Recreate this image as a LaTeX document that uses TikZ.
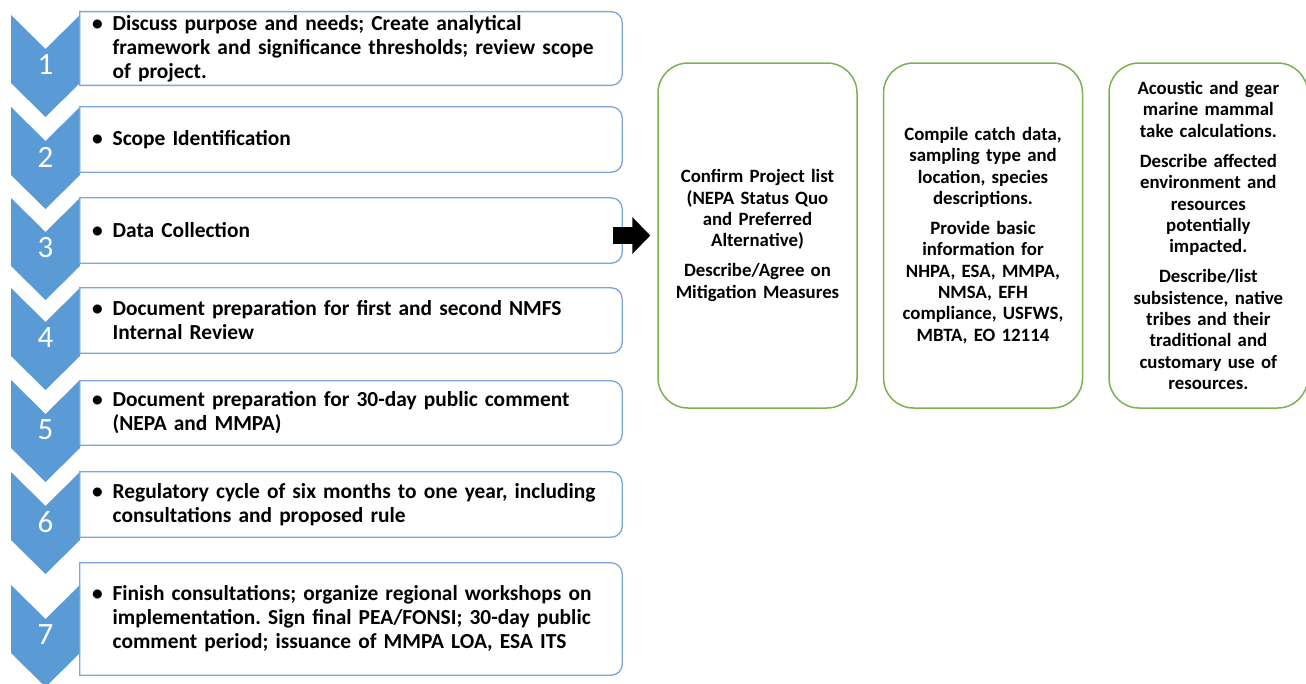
\documentclass[tikz,border=0pt]{standalone}
\usepackage{fontspec}
\setmainfont{Carlito}
\usepackage{xcolor}
\usepackage{tikz}
\usetikzlibrary{arrows.meta,positioning,calc}

\definecolor{chevblue}{RGB}{91,155,213}
\definecolor{lineblue}{RGB}{122,166,216}
\definecolor{notegreen}{RGB}{122,178,82}
\newcommand{\bitem}[1]{\textbullet\hspace{10pt}\parbox[t]{490pt}{#1}}
\frenchspacing

\begin{document}
\begin{tikzpicture}[x=1pt,y=1pt,>=latex,
  stepbox/.style={rectangle,minimum width=542pt,text width=518pt,inner xsep=12pt,align=left,
    font=\fontsize{21.4}{24}\selectfont\bfseries},
  stepnum/.style={text=white,font=\fontsize{31}{31}\selectfont},
  notebox/.style={draw=notegreen,line width=1.5pt,rounded corners=30pt,minimum width=199pt,
    minimum height=345pt,text width=192pt,align=center,font=\fontsize{18.8}{21.3}\selectfont\bfseries}]
  \clip (0,0) rectangle (1306,-683);
  % chevrons with step numbers
  \foreach \t/\n in {15/1,107/2,198/3,288/4,380/5,472/6,585/7} {
    \fill[chevblue] (11,-\t) -- (45.5,-\t-34) -- (80,-\t) -- (80,-\t-68) -- (45.5,-\t-102) -- (11,-\t-68) -- cycle;
    \node[stepnum] (n\n) at (45.5,-\t-50) {\n};
  }
  % steps
  \node[stepbox,minimum height=73pt] (s1) at (351,-48.5) {\bitem{Discuss purpose and needs; Create analytical\\
    framework and significance thresholds; review scope\\ of project.}};
  \node[stepbox,minimum height=65pt] (s2) at (351,-139.5) {\bitem{Scope Identification}};
  \node[stepbox,minimum height=65pt] (s3) at (351,-230.5) {\bitem{Data Collection}};
  \node[stepbox,minimum height=65pt] (s4) at (351,-320.5) {\bitem{Document preparation for first and second NMFS\\ Internal Review}};
  \node[stepbox,minimum height=64pt] (s5) at (351,-413) {\bitem{Document preparation for 30-day public comment\\ (NEPA and MMPA)}};
  \node[stepbox,minimum height=65pt] (s6) at (351,-504.5) {\bitem{Regulatory cycle of six months to one year, including\\ consultations and proposed rule}};
  \node[stepbox,minimum height=112pt] (s7) at (351,-619) {\bitem{Finish consultations; organize regional workshops on\\
    implementation. Sign final PEA/FONSI; 30-day public\\ comment period; issuance of MMPA LOA, ESA ITS}};
  \foreach \s in {s1,s2,s3,s4,s5,s6,s7}
    \draw[lineblue,line width=1.3pt] (\s.north west) -- ([xshift=-11pt]\s.north east) arc[start angle=90,end angle=0,radius=11pt]
      -- ([yshift=11pt]\s.south east) arc[start angle=0,end angle=-90,radius=11pt] -- (\s.south west) -- cycle;
  % notes
  \node[notebox] (gA) at (757.5,-235.5) {Confirm Project list\\(NEPA Status Quo\\and Preferred\\Alternative)\\[9pt]
    Describe/Agree on\\Mitigation Measures};
  \node[notebox,right=25pt of gA] (gB) {Compile catch data,\\sampling type and\\location, species\\descriptions.\\[9pt]
    Provide basic\\information for\\NHPA, ESA, MMPA,\\NMSA, EFH\\compliance, USFWS,\\MBTA, EO 12114};
  \node[notebox,minimum width=197pt,right=25pt of gB] (gC) {Acoustic and gear\\marine mammal\\take calculations.\\[9pt]
    Describe affected\\environment and\\resources\\potentially\\impacted.\\[9pt]
    Describe/list\\subsistence, native\\tribes and their\\traditional and\\customary use of\\resources.};
  \draw[line width=17pt,-{Triangle[length=18pt,width=36pt]}] ($(s3.east |- gA.west)+(-9,0)$) -- ($(gA.west)+(-7,0)$);
\end{tikzpicture}
\end{document}
